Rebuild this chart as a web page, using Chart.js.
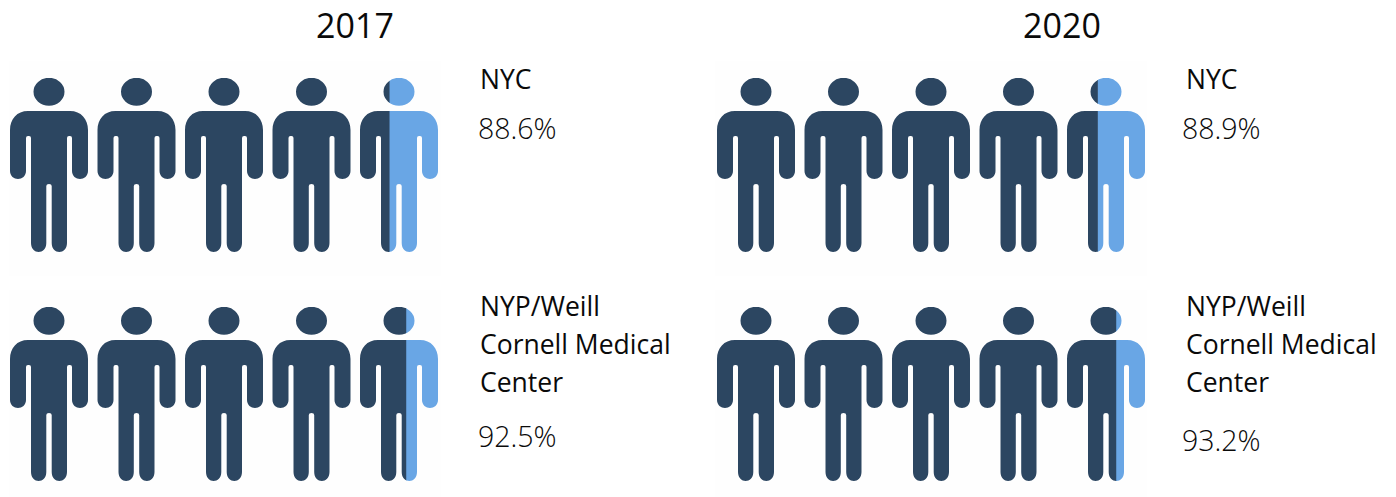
<!DOCTYPE html>
<html>
<head>
<meta charset="utf-8">
<title>Pictogram</title>
<script src="https://cdn.jsdelivr.net/npm/chart.js@4"></script>
<style>
    html, body { margin: 0; padding: 0; background: #fff; }
    body { width: 1396px; height: 497px; position: relative; overflow: hidden; font-family: "Open Sans", sans-serif; color: #0a0a0a; }
    .panel { position: absolute; width: 432px; height: 215px; background: #fefefe; }
    canvas { position: absolute; filter: blur(0.4px); }
    .year { position: absolute; top: 3px; width: 120px; text-align: center; font-size: 34px; line-height: 44px; font-weight: 500; }
    .place { position: absolute; font-size: 26.5px; line-height: 38px; white-space: pre; }
    .share { position: absolute; font-size: 28.5px; line-height: 38px; font-weight: 300; }
</style>
</head>
<body>
<script>
const years = ['2017', '2020'];
const places = ['NYC', 'NYP/Weill\nCornell Medical\nCenter'];
const shares2017 = [88.6, 92.5];
const shares2020 = [88.9, 93.2];
const peopleCount = 5;

const darkColor = '#2c4661';
const lightColor = '#69a6e5';

// Outline of one person, in a 78 x 174 box. Each side is its own subpath
function personSide(ctx, x, y, k, left) {
    const X = v => x + (left ? 78 - v : v) * k;
    const Y = v => y + v * k;
    ctx.moveTo(X(39), Y(33));
    ctx.lineTo(X(60), Y(33));
    ctx.bezierCurveTo(X(71), Y(33), X(78), Y(41), X(78), Y(52));
    ctx.lineTo(X(78), Y(93));
    ctx.bezierCurveTo(X(78), Y(98), X(74), Y(101), X(70), Y(101));
    ctx.bezierCurveTo(X(66), Y(101), X(62), Y(98), X(62), Y(93));
    ctx.lineTo(X(62), Y(60));
    ctx.quadraticCurveTo(X(62), Y(58), X(60), Y(58));
    ctx.lineTo(X(59), Y(58));
    ctx.quadraticCurveTo(X(57), Y(58), X(57), Y(60));
    ctx.lineTo(X(57), Y(165));
    ctx.bezierCurveTo(X(57), Y(171), X(53), Y(174), X(49.4), Y(174));
    ctx.bezierCurveTo(X(45.5), Y(174), X(41.7), Y(171), X(41.7), Y(165));
    ctx.lineTo(X(41.7), Y(108));
    ctx.quadraticCurveTo(X(41.7), Y(106), X(39), Y(106));
    ctx.closePath();
}

// The stacked bars are only seen through the row of people
const peopleClip = {
    id: 'peopleClip',
    beforeDatasetsDraw(chart) {
        const { ctx, chartArea } = chart;
        const k = chartArea.height / 174;
        const pitch = (chartArea.width - 78 * k) / (peopleCount - 1);
        ctx.save();
        ctx.beginPath();
        for (let i = 0; i < peopleCount; i++) {
            const x = chartArea.left + i * pitch;
            const y = chartArea.top;
            ctx.moveTo(x + 54.5 * k, y + 13.8 * k);
            ctx.ellipse(x + 39 * k, y + 13.8 * k, 15.5 * k, 14 * k, 0, 0, Math.PI * 2);
            personSide(ctx, x, y, k, false);
            personSide(ctx, x, y, k, true);
        }
        ctx.clip();
    },
    afterDatasetsDraw(chart) {
        chart.ctx.restore();
    }
};

function createChart(left, top, share) {
    const canvas = document.createElement('canvas');
    canvas.width = 428;
    canvas.height = 174;
    canvas.style.left = left + 'px';
    canvas.style.top = top + 'px';
    document.body.appendChild(canvas);

    new Chart(canvas.getContext('2d'), {
        type: 'bar',
        data: {
            labels: [''],
            datasets: [
                { data: [share], backgroundColor: darkColor },
                { data: [100 - share], backgroundColor: lightColor }
            ]
        },
        plugins: [peopleClip],
        options: {
            indexAxis: 'y',
            responsive: false,
            animation: false,
            barPercentage: 1,
            categoryPercentage: 1,
            layout: { padding: 0 },
            scales: {
                x: { stacked: true, min: 0, max: 100, display: false },
                y: { stacked: true, display: false }
            },
            plugins: { legend: { display: false }, tooltip: { enabled: false } }
        }
    });
}

function addText(className, text, left, top) {
    const el = document.createElement('div');
    el.className = className;
    el.textContent = text;
    el.style.left = left + 'px';
    el.style.top = top + 'px';
    document.body.appendChild(el);
}

function addPanel(left, top) {
    const el = document.createElement('div');
    el.className = 'panel';
    el.style.left = left + 'px';
    el.style.top = top + 'px';
    document.body.appendChild(el);
}

window.onload = function () {
    addPanel(9, 61);
    addPanel(715, 61);
    addPanel(9, 290);
    addPanel(715, 290);

    createChart(10, 78, shares2017[0]);
    createChart(10, 307, shares2017[1]);
    createChart(717, 78, shares2020[0]);
    createChart(717, 307, shares2020[1]);

    addText('year', years[0], 295, 3);
    addText('year', years[1], 1002, 3);

    addText('place', places[0], 480, 60);
    addText('place', places[0], 1186, 60);
    addText('place', places[1], 480, 287);
    addText('place', places[1], 1186, 287);

    addText('share', shares2017[0].toFixed(1) + '%', 478, 109);
    addText('share', shares2020[0].toFixed(1) + '%', 1182, 109);
    addText('share', shares2017[1].toFixed(1) + '%', 478, 417);
    addText('share', shares2020[1].toFixed(1) + '%', 1182, 421);
};
</script>
</body>
</html>
